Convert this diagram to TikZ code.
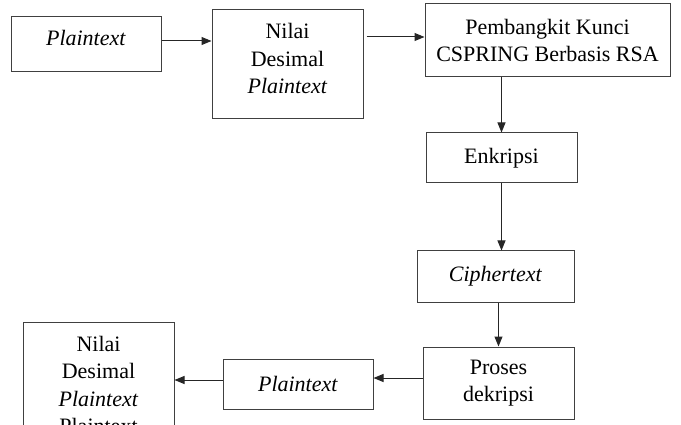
\documentclass[tikz,border=0pt]{standalone}
\usepackage{fontspec}
\setmainfont{Liberation Serif}
\usepackage{tikz}
\usetikzlibrary{arrows.meta,positioning,calc}
\definecolor{boxline}{rgb}{0.25,0.25,0.25}

\begin{document}
\begin{tikzpicture}[x=1pt,y=-1pt,font=\fontsize{22}{27.5}\selectfont,
   bx/.style={draw=boxline,line width=1pt,inner sep=0pt,align=center},
   arr/.style={-{Triangle[length=10pt,width=8pt]},line width=1pt,draw=black!85}]
  \clip (0,0) rectangle (681,425);
  % top row
  \node[bx,minimum width=150,minimum height=55,text depth=14pt] (pt1) at (86,44.5) {\textit{Plaintext}};
  \node[bx,minimum width=151,minimum height=109,text depth=12pt] (nd1) at (287.5,64.5)
       {Nilai\\Desimal\\\textit{Plaintext}};
  \node[bx,minimum width=245,minimum height=73] (key) at (547.5,40.5)
       {Pembangkit Kunci\\CSPRING Berbasis RSA};
  % right column
  \node[bx,minimum width=151,minimum height=50] (enk) at (501.5,158) {Enkripsi};
  \node[bx,minimum width=157,minimum height=51] (cph) at (495.5,276.5) {\textit{Ciphertext}};
  \node[bx,minimum width=151,minimum height=72] (dek) at (498.5,383) {Proses\\dekripsi};
  % bottom row
  \node[bx,minimum width=150,minimum height=50] (pt2) at (298,384) {\textit{Plaintext}};
  \node[bx,minimum width=151,minimum height=126] (nd2) at (98.5,385)
       {Nilai\\Desimal\\\textit{Plaintext}\\Plaintext};
  % connectors
  \draw[arr] ([yshift=3.5]pt1.east) -- ([yshift=3.5]pt1.east -| nd1.west);
  \draw[arr] ([xshift=3,yshift=3.5]nd1.east |- key.west) -- ([yshift=3.5]key.west);
  \draw[arr] (key.south -| enk.north) -- (enk.north);
  \draw[arr] (enk.south) -- (enk.south |- cph.north);
  \draw[arr] (cph.south -| dek.north) -- (dek.north);
  \draw[arr] ([yshift=5]dek.west) -- ([yshift=5]dek.west -| pt2.east);
  \draw[arr] ([yshift=4]pt2.west) -- ([yshift=4]pt2.west -| nd2.east);
\end{tikzpicture}
\end{document}
